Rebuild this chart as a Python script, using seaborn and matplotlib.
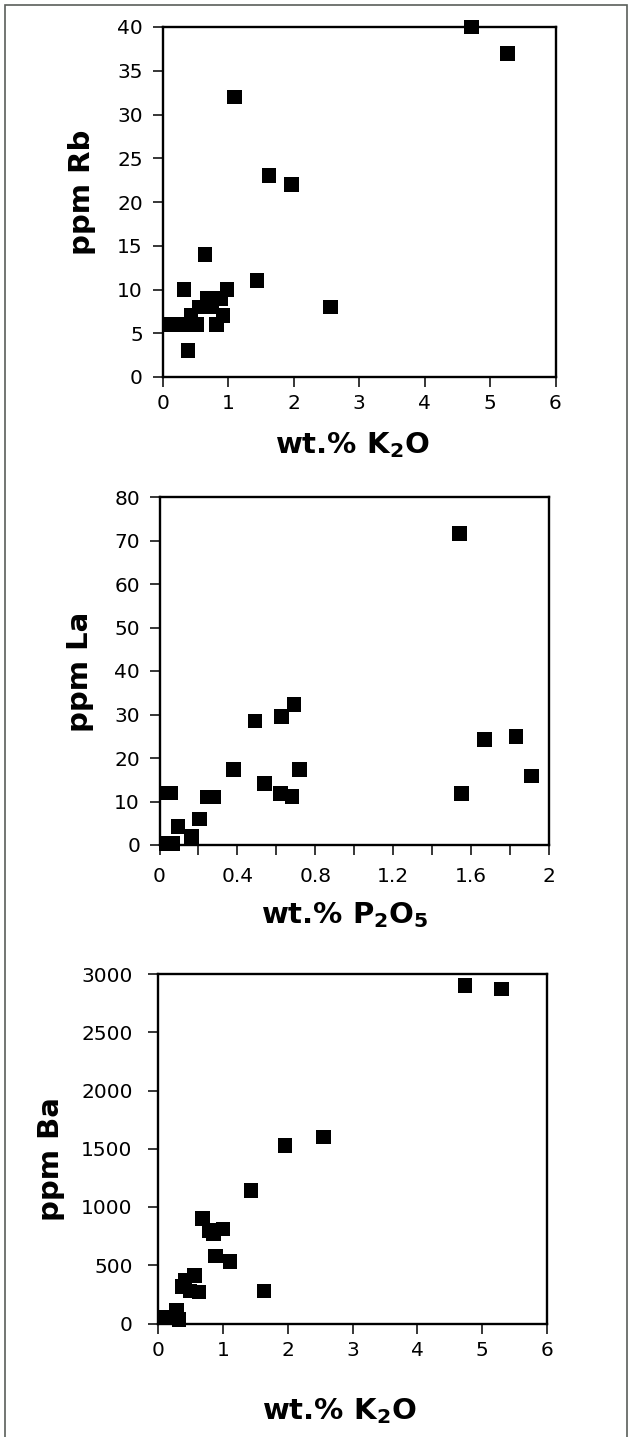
"""
Trace-element vs major-oxide scatter plots (Rb, La, Ba)
"""

import matplotlib
matplotlib.use("Agg")
import matplotlib.pyplot as plt
from matplotlib.patches import Rectangle
import pandas as pd
import seaborn as sns

# --- data ---
rb_k2o = [4.72, 5.27, 1.09, 1.62, 1.96, 2.56, 1.44, 0.64, 0.32, 0.98,
          0.10, 0.24, 0.38, 0.52, 0.43, 0.56, 0.68, 0.80, 0.88, 0.75,
          0.92, 0.82, 0.38]
rb_ppm = [40, 37, 32, 23, 22, 8, 11, 14, 10, 10,
          6, 6, 6, 6, 7, 8, 9, 9, 9, 8,
          7, 6, 3]

la_p2o5 = [1.54, 1.55, 1.67, 1.83, 1.91, 0.49, 0.625, 0.69, 0.72, 0.54,
           0.62, 0.68, 0.38, 0.245, 0.28, 0.205, 0.095, 0.165, 0.034, 0.06,
           0.035, 0.07]
la_ppm = [71.6, 11.9, 24.3, 24.9, 15.9, 28.5, 29.5, 32.3, 17.4, 14.2,
          11.9, 11.1, 17.4, 11.0, 11.0, 6.0, 4.3, 2.0, 12.0, 12.0,
          0.3, 0.3]

ba_k2o = [4.74, 5.30, 2.55, 1.96, 1.43, 0.68, 0.78, 0.85, 1.00, 0.88,
          1.11, 1.63, 0.41, 0.56, 0.37, 0.49, 0.63, 0.10, 0.20, 0.28,
          0.32]
ba_ppm = [2900, 2870, 1600, 1530, 1140, 900, 800, 770, 810, 580,
          530, 280, 370, 410, 320, 280, 270, 50, 50, 115,
          35]

rb_xticks = [0, 1, 2, 3, 4, 5, 6]
rb_yticks = [0, 5, 10, 15, 20, 25, 30, 35, 40]
la_xticks = [0, 0.2, 0.4, 0.6, 0.8, 1.0, 1.2, 1.4, 1.6, 1.8, 2.0]
la_xlabels = ['0', '', '0.4', '', '0.8', '', '1.2', '', '1.6', '', '2']
la_yticks = [0, 10, 20, 30, 40, 50, 60, 70, 80]
ba_xticks = [0, 1, 2, 3, 4, 5, 6]
ba_yticks = [0, 500, 1000, 1500, 2000, 2500, 3000]

sns.set_style("ticks")
plt.rcParams['font.family'] = ['DejaVu Sans']
plt.rcParams['mathtext.fontset'] = 'custom'
plt.rcParams['mathtext.rm'] = 'DejaVu Sans:bold'
plt.rcParams['mathtext.bf'] = 'DejaVu Sans:bold'
for key in ['text.color', 'axes.labelcolor', 'xtick.color', 'ytick.color', 'axes.edgecolor']:
    plt.rcParams[key] = 'black'

W, H = 632, 1437
fig = plt.figure(figsize=(W / 100, H / 100), dpi=100)
fig.patch.set_facecolor('white')


def px_axes(left, right, top, bottom):
    # axes rectangle from pixel edges of the reference
    return fig.add_axes([left / W, 1 - bottom / H, (right - left) / W, (bottom - top) / H])


def style_axes(ax, xticks, yticks, xlim, ylim, xlabels, xpad, ypad):
    ax.set_xlim(*xlim)
    ax.set_ylim(*ylim)
    ax.set_xticks(xticks)
    ax.set_yticks(yticks)
    if xlabels is not None:
        ax.set_xticklabels(xlabels)
    else:
        ax.set_xticklabels([str(t) for t in xticks])
    ax.set_yticklabels([str(t) for t in yticks])
    for s in ax.spines.values():
        s.set_linewidth(1.7)
        s.set_color('black')
    ax.tick_params(axis='both', direction='out', length=7, width=1.1,
                   color='black', labelsize=14.5, labelcolor='black')
    ax.tick_params(axis='x', pad=xpad)
    ax.tick_params(axis='y', pad=ypad)
    ax.set_facecolor('white')


panels = [
    dict(x=rb_k2o, y=rb_ppm, box=(163, 555.5, 27, 377),
         xt=rb_xticks, yt=rb_yticks, xl=(0, 6), yl=(0, 40), xlab=None,
         xlabel=r'wt.% K$_{2}$O', ylabel='ppm Rb', xpad=5.5, ypad=7.5,
         xcoord=(0.482, -0.151), ycoord=(-0.207, 0.527)),
    dict(x=la_p2o5, y=la_ppm, box=(159.5, 549, 497, 845),
         xt=la_xticks, yt=la_yticks, xl=(0, 2), yl=(0, 80), xlab=la_xlabels,
         xlabel=r'wt.% P$_{2}$O$_{5}$', ylabel='ppm La', xpad=8.5, ypad=7,
         xcoord=(0.475, -0.16), ycoord=(-0.204, 0.497)),
    dict(x=ba_k2o, y=ba_ppm, box=(158.3, 546.7, 974, 1323.5),
         xt=ba_xticks, yt=ba_yticks, xl=(0, 6), yl=(0, 3000), xlab=None,
         xlabel=r'wt.% K$_{2}$O', ylabel='ppm Ba', xpad=5.5, ypad=11.5,
         xcoord=(0.465, -0.207), ycoord=(-0.275, 0.47)),
]

for p in panels:
    ax = px_axes(*p['box'])
    df = pd.DataFrame({'x': p['x'], 'y': p['y']})
    sns.scatterplot(data=df, x='x', y='y', ax=ax, marker='s', s=110,
                    color='black', edgecolor='none', linewidth=0,
                    clip_on=False, zorder=5)
    style_axes(ax, p['xt'], p['yt'], p['xl'], p['yl'], p['xlab'], p['xpad'], p['ypad'])
    ax.set_xlabel(p['xlabel'], fontsize=21, fontweight='bold', va='top')
    ax.set_ylabel(p['ylabel'], fontsize=21, fontweight='bold', va='center')
    ax.xaxis.set_label_coords(*p['xcoord'])
    ax.yaxis.set_label_coords(*p['ycoord'])

# thin frame around the whole page (bottom edge runs off the scan)
fig.add_artist(Rectangle((5 / W, -3 / H), 622 / W, 1435 / H, transform=fig.transFigure,
                         fill=False, edgecolor='#5a5f5a', linewidth=1.2))

fig.savefig('out.png', dpi=100, facecolor='white')
plt.close(fig)
